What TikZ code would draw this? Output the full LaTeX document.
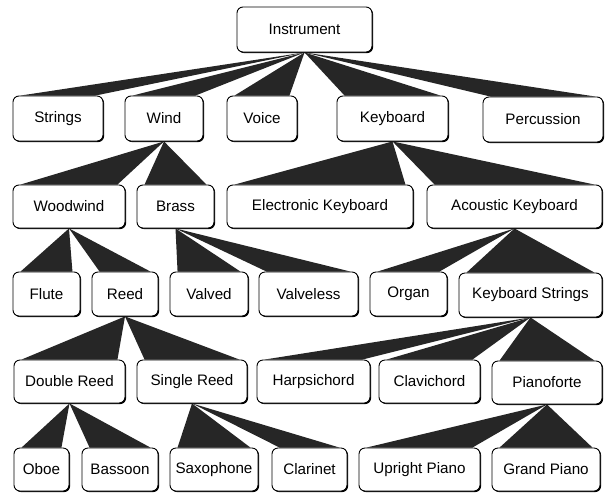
\documentclass[tikz,border=0pt]{standalone}
\usepackage{fontspec}
\setmainfont{Liberation Sans}
\usetikzlibrary{shadows,backgrounds}
\tikzset{
  box/.style={draw=black, line width=0.9pt, rounded corners=6pt, fill=white,
    inner sep=0pt, font=\fontsize{15.2}{18}\selectfont,
    drop shadow={shadow xshift=1.1pt, shadow yshift=-1.1pt, fill=black, opacity=1}},
  wedgefill/.style={fill=black!85}
}
\newcommand{\bx}[6]{\node[box, minimum width={#3-#2}, minimum height={#5-#4}] (#1) at ({(#2+#3)/2},{(#4+#5)/2}) {#6};}
\newcommand{\wedgeto}[2]{\fill[wedgefill] (#1.south) -- ([xshift=8pt]#2.north west) -- ([xshift=-8pt]#2.north east) -- cycle;}
\begin{document}
\begin{tikzpicture}[x=1pt,y=-1pt]
\useasboundingbox (0,0) rectangle (607,493);
% Row 0
\bx{instr}{237}{372}{7}{52}{Instrument}
% Row 1
\bx{strings}{13}{103}{96}{141}{Strings}
\bx{wind}{125}{203}{96}{141}{Wind}
\bx{voice}{227}{297}{96}{141}{Voice}
\bx{keyb}{337}{448}{96}{141}{Keyboard}
\bx{perc}{483}{603}{97}{142}{Percussion}
% Row 2
\bx{woodw}{13}{125}{185}{228}{Woodwind}
\bx{brass}{137}{214}{185}{228}{Brass}
\bx{elec}{227}{413}{185}{228}{Electronic Keyboard}
\bx{acou}{427}{602}{185}{228}{Acoustic Keyboard}
% Row 3
\bx{flute}{13}{80}{272}{316}{Flute}
\bx{reed}{92}{158}{272}{316}{Reed}
\bx{valved}{170}{248}{272}{316}{Valved}
\bx{valveless}{259}{358}{272}{316}{Valveless}
\bx{organ}{370}{447}{272}{316}{Organ}
\bx{kstr}{459}{602}{273}{317}{Keyboard Strings}
% Row 4
\bx{dreed}{14}{125}{360}{403}{Double Reed}
\bx{sreed}{137}{247}{360}{403}{Single Reed}
\bx{harp}{257}{370}{360}{403}{Harpsichord}
\bx{clav}{379}{480}{360}{403}{Clavichord}
\bx{piano}{492}{602}{361}{404}{Pianoforte}
% Row 5
\bx{oboe}{14}{69}{448}{491}{Oboe}
\bx{bassoon}{82}{158}{448}{491}{Bassoon}
\bx{sax}{170}{258}{448}{491}{Saxophone}
\bx{clar}{272}{347}{448}{491}{Clarinet}
\bx{upright}{359}{480}{448}{491}{Upright Piano}
\bx{grand}{492}{600}{448}{491}{Grand Piano}
% wedges
\begin{scope}[on background layer]
\wedgeto{instr}{strings}
\wedgeto{instr}{wind}
\wedgeto{instr}{voice}
\wedgeto{instr}{keyb}
\wedgeto{instr}{perc}
\wedgeto{wind}{woodw}
\wedgeto{wind}{brass}
\wedgeto{keyb}{elec}
\wedgeto{keyb}{acou}
\wedgeto{woodw}{flute}
\wedgeto{woodw}{reed}
\wedgeto{brass}{valved}
\wedgeto{brass}{valveless}
\wedgeto{acou}{organ}
\wedgeto{acou}{kstr}
\wedgeto{reed}{dreed}
\wedgeto{reed}{sreed}
\wedgeto{kstr}{harp}
\wedgeto{kstr}{clav}
\wedgeto{kstr}{piano}
\wedgeto{dreed}{oboe}
\wedgeto{dreed}{bassoon}
\wedgeto{sreed}{sax}
\wedgeto{sreed}{clar}
\wedgeto{piano}{upright}
\wedgeto{piano}{grand}
\end{scope}
\end{tikzpicture}
\end{document}
